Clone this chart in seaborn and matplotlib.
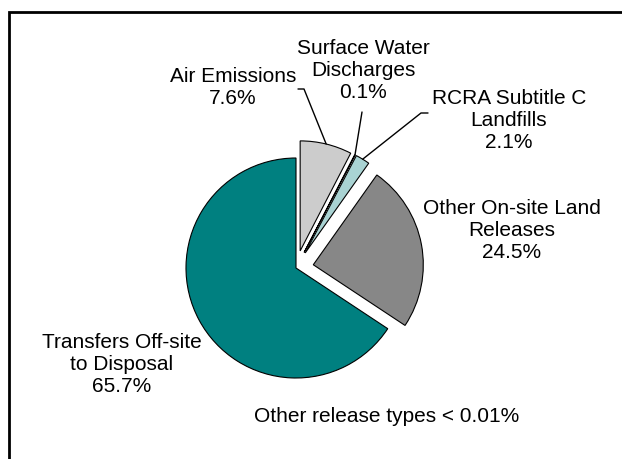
import numpy as np
import matplotlib
matplotlib.use("Agg")
import matplotlib.pyplot as plt
from matplotlib.patches import Rectangle
import seaborn as sns

# data
categories = ["Air Emissions", "Surface Water Discharges", "RCRA Subtitle C Landfills",
              "Other On-site Land Releases", "Transfers Off-site to Disposal"]
shares = [7.6, 0.1, 2.1, 24.5, 65.7]
label_texts = ["Air Emissions\n7.6%", "Surface Water\nDischarges\n0.1%",
               "RCRA Subtitle C\nLandfills\n2.1%", "Other On-site Land\nReleases\n24.5%",
               "Transfers Off-site\nto Disposal\n65.7%"]
note = "Other release types < 0.01%"

# styling / layout (pixel positions on the 622x459 canvas)
colors = ["#cccccc", "#0b3b3b", "#a9d3d3", "#878787", "#008080"]
explode = [0.16, 0.16, 0.16, 0.16, 0.0]
W, H = 622, 459
CX, CY, R = 296, 268, 110
label_pos = [(233, 87), (363, 71), (509, 120), (512, 231), (122, 364)]
# leader lines: (start, elbow) in pixels, None = no leader
leaders = [((298, 89), (304, 89)), ((362, 112), (362, 112)), ((428, 113), (421, 113)), None, None]
note_pos = (387, 417)


def px(x, y):
    return (x - CX) / R, (CY - y) / R


sns.set_theme(style="white")
plt.rcParams["font.family"] = ["Liberation Sans", "DejaVu Sans"]

fig = plt.figure(figsize=(W / 100, H / 100), dpi=100)
ax = fig.add_axes([0, 0, 1, 1])

wedges, _ = ax.pie(shares, colors=colors, startangle=90, counterclock=False,
                   explode=explode, radius=1,
                   wedgeprops=dict(edgecolor="black", linewidth=0.8))

ax.set_xlim(-CX / R, (W - CX) / R)
ax.set_ylim(-(H - CY) / R, CY / R)
ax.set_aspect("equal")
ax.axis("off")

for w, txt, pos, ld in zip(wedges, label_texts, label_pos, leaders):
    x, y = px(*pos)
    ax.text(x, y, txt, ha="center", va="center", fontsize=15, color="black")
    if ld is not None:
        mid = np.deg2rad((w.theta1 + w.theta2) / 2)
        wx = w.center[0] + w.r * np.cos(mid)
        wy = w.center[1] + w.r * np.sin(mid)
        (sx, sy), (ex, ey) = px(*ld[0]), px(*ld[1])
        ax.plot([sx, ex, wx], [sy, ey, wy], color="black", linewidth=1)

nx, ny = px(*note_pos)
ax.text(nx, ny, note, ha="center", va="center", fontsize=15, color="black")

# outer border (cropped on the right and bottom like the reference)
fig.patches.append(Rectangle((9 / W, -0.1), 1.2, 1.1 - 12 / H, transform=fig.transFigure,
                             fill=False, edgecolor="black", linewidth=2))

fig.savefig("out.png", dpi=100, facecolor="white")
